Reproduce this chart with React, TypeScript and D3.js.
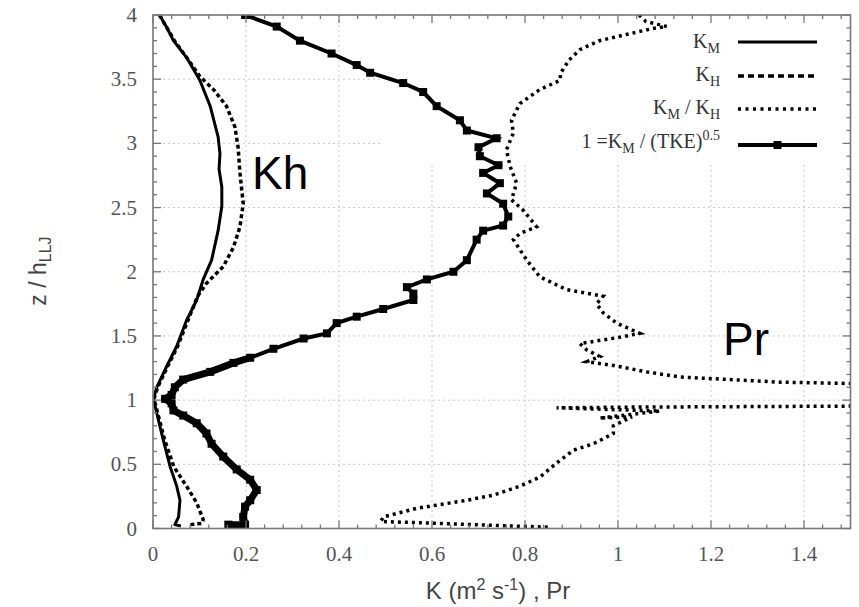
import React from "react";
import * as d3 from "d3";

// K_M profile (solid)
const kmZ = [4.0, 3.9, 3.8, 3.67, 3.49, 3.29, 3.05, 2.92, 2.8, 2.66, 2.51, 2.32, 2.09, 1.94, 1.78, 1.62, 1.42, 1.26, 1.1, 1.01, 0.9, 0.69, 0.48, 0.33, 0.22, 0.09, 0.03, 0.02];
const kmX = [0.014, 0.03, 0.044, 0.072, 0.101, 0.123, 0.14, 0.144, 0.142, 0.148, 0.148, 0.14, 0.126, 0.108, 0.094, 0.072, 0.051, 0.029, 0.008, 0.001, 0.008, 0.022, 0.037, 0.051, 0.058, 0.055, 0.047, 0.06];

// K_H profile (dashed)
const khZ = [4.0, 3.9, 3.8, 3.65, 3.52, 3.42, 3.29, 3.13, 2.97, 2.77, 2.53, 2.35, 2.19, 2.04, 1.91, 1.81, 1.62, 1.42, 1.26, 1.1, 1.01, 0.9, 0.69, 0.48, 0.33, 0.2, 0.07, 0.04, 0.03];
const khX = [0.014, 0.03, 0.046, 0.076, 0.101, 0.13, 0.158, 0.176, 0.183, 0.187, 0.194, 0.187, 0.173, 0.151, 0.115, 0.096, 0.075, 0.053, 0.031, 0.01, 0.002, 0.01, 0.025, 0.045, 0.072, 0.094, 0.108, 0.105, 0.08];

// l = K_M / (TKE)^0.5
const tkeZ = [4.0, 3.91, 3.8, 3.7, 3.61, 3.55, 3.47, 3.4, 3.29, 3.18, 3.1, 3.04, 2.97, 2.9, 2.83, 2.77, 2.69, 2.61, 2.53, 2.43, 2.36, 2.32, 2.25, 2.09, 2.0, 1.94, 1.88, 1.83, 1.78, 1.71, 1.65, 1.6, 1.52, 1.48, 1.4, 1.33, 1.29, 1.22, 1.16, 1.1, 1.04, 1.01, 0.975, 0.92, 0.88, 0.82, 0.74, 0.66, 0.56, 0.46, 0.38, 0.3, 0.22, 0.17, 0.09, 0.03, 0.03];
const tkeX = [0.198, 0.266, 0.316, 0.384, 0.438, 0.467, 0.538, 0.581, 0.61, 0.66, 0.675, 0.739, 0.7, 0.703, 0.743, 0.71, 0.746, 0.718, 0.753, 0.764, 0.753, 0.71, 0.696, 0.675, 0.646, 0.589, 0.546, 0.56, 0.56, 0.495, 0.438, 0.395, 0.374, 0.324, 0.259, 0.209, 0.173, 0.123, 0.065, 0.047, 0.04, 0.026, 0.04, 0.044, 0.065, 0.094, 0.115, 0.126, 0.151, 0.18, 0.209, 0.223, 0.209, 0.198, 0.194, 0.198, 0.162];

// Pr = K_M / K_H (dotted)
const prZ = [4.0, 3.95, 3.91, 3.895, 3.85, 3.8, 3.73, 3.65, 3.55, 3.49, 3.42, 3.31, 3.18, 3.08, 2.95, 2.82, 2.69, 2.56, 2.48, 2.35, 2.3, 2.25, 2.09, 1.96, 1.86, 1.81, 1.75, 1.68, 1.6, 1.52, 1.49, 1.44, 1.39, 1.34, 1.3, 1.27, 1.22, 1.18, 1.16, 1.14, 1.13, 1.11, 0.96, 0.95, 0.945, 0.94, 0.915, 0.86, 0.87, 0.8, 0.74, 0.66, 0.61, 0.51, 0.4, 0.33, 0.26, 0.22, 0.157, 0.09, 0.055, 0.01];
const prX = [1.045, 1.06, 1.105, 1.075, 1.02, 0.96, 0.918, 0.895, 0.877, 0.875, 0.832, 0.789, 0.771, 0.775, 0.76, 0.768, 0.782, 0.771, 0.796, 0.825, 0.79, 0.775, 0.804, 0.832, 0.89, 0.968, 0.954, 0.968, 0.997, 1.047, 1.004, 0.918, 0.933, 0.961, 0.933, 0.99, 1.062, 1.133, 1.241, 1.348, 1.49, 1.9, 1.9, 1.3, 1.0, 0.868, 1.09, 0.96, 1.03, 0.99, 0.99, 0.947, 0.904, 0.868, 0.832, 0.789, 0.732, 0.675, 0.567, 0.495, 0.49, 0.85];

const xTicks = [0, 0.2, 0.4, 0.6, 0.8, 1, 1.2, 1.4];
const yTicks = [0, 0.5, 1, 1.5, 2, 2.5, 3, 3.5, 4];

const serif = "'Liberation Serif', 'Times New Roman', serif";
const sans = "'Liberation Sans', Arial, sans-serif";

export default function App() {
  const left = 153, right = 850.5, top = 15, bottom = 528.5;
  const x = d3.scaleLinear().domain([0, 1.5]).range([left, right]);
  const y = d3.scaleLinear().domain([0, 4]).range([bottom, top]);
  const line = d3.line<number[]>().x(d => x(d[0])).y(d => y(d[1]));

  const km = kmX.map((v, i) => [v, kmZ[i]]);
  const kh = khX.map((v, i) => [v, khZ[i]]);
  const tke = tkeX.map((v, i) => [v, tkeZ[i]]);
  const pr = prX.map((v, i) => [v, prZ[i]]);
  // the lower part of the mixing-length profile is drawn bolder in the original
  const tkeLow = tke.filter(d => d[1] <= 1.33);

  const xMinor = d3.range(0, 1.5001, 0.04);
  const yMinor = d3.range(0, 4.0001, 0.1);

  const legX = 720, sx0 = 738, sx1 = 817;
  const rows = [42, 76, 109, 145];

  return (
    <svg width={859} height={607} style={{ position: "absolute", left: 0, top: 0, background: "#fff" }}>
      <defs>
        <clipPath id="plot">
          <rect x={left} y={top} width={right - left} height={bottom - top} />
        </clipPath>
      </defs>
      <rect width={859} height={607} fill="#fff" />

      {/* grid */}
      <g stroke="#c8c8c8" strokeWidth={1} strokeDasharray="2,3">
        {xTicks.filter(t => t > 0).map(t => (
          <line key={"gx" + t} x1={x(t)} x2={x(t)} y1={top} y2={bottom} />
        ))}
        {yTicks.filter(t => t > 0 && t < 4).map(t => (
          <line key={"gy" + t} x1={left} x2={right} y1={y(t)} y2={y(t)} />
        ))}
      </g>
      {/* key box hides grid */}
      <rect x={380} y={top + 1} width={right - 381} height={148} fill="#fff" />

      {/* curves */}
      <g clipPath="url(#plot)" fill="none" stroke="#000">
        <path d={line(km) || ""} strokeWidth={3} strokeLinejoin="round" />
        <path d={line(kh) || ""} strokeWidth={3.5} strokeDasharray="4,3" />
        <path d={line(pr) || ""} strokeWidth={3.5} strokeDasharray="3,4" />
        <path d={line(tke) || ""} strokeWidth={4} strokeLinejoin="miter" />
        <path d={line(tkeLow) || ""} strokeWidth={7} strokeLinejoin="round" />
        {tke.map((d, i) => (
          <rect key={"m" + i} x={x(d[0]) - 4} y={y(d[1]) - 4} width={8} height={8} fill="#000" stroke="none" />
        ))}
      </g>

      {/* legend */}
      <g fontFamily={serif} fontSize={20} fill="#333" textAnchor="end">
        <text x={legX} y={rows[0] + 6}>K<tspan fontSize={14} dy={5}>M</tspan></text>
        <text x={legX} y={rows[1] + 5}>K<tspan fontSize={14} dy={5}>H</tspan></text>
        <text x={legX} y={rows[2] + 5}>K<tspan fontSize={14} dy={5}>M</tspan><tspan dy={-5}> / K</tspan><tspan fontSize={14} dy={5}>H</tspan></text>
        <text x={legX} y={rows[3] + 3}>1 =K<tspan fontSize={14} dy={5}>M</tspan><tspan dy={-5}> / (TKE)</tspan><tspan fontSize={14} dy={-8}>0.5</tspan></text>
      </g>
      <g stroke="#000" fill="none">
        <line x1={sx0} x2={sx1} y1={rows[0]} y2={rows[0]} strokeWidth={3} />
        <line x1={sx0} x2={sx1} y1={rows[1]} y2={rows[1]} strokeWidth={3.5} strokeDasharray="6,4" />
        <line x1={sx0} x2={sx1} y1={rows[2]} y2={rows[2]} strokeWidth={3.5} strokeDasharray="3,4.5" />
        <line x1={sx0} x2={sx1} y1={rows[3]} y2={rows[3]} strokeWidth={4} />
        <rect x={(sx0 + sx1) / 2 - 4} y={rows[3] - 4} width={8} height={8} fill="#000" stroke="none" />
      </g>

      {/* frame and ticks */}
      <g stroke="#777" strokeWidth={1.3}>
        {xMinor.map((t, i) => {
          const len = i % 5 === 0 ? 8 : 4;
          return (
            <g key={"xt" + i}>
              <line x1={x(t)} x2={x(t)} y1={bottom} y2={bottom - len} />
              <line x1={x(t)} x2={x(t)} y1={top} y2={top + len} />
            </g>
          );
        })}
        {yMinor.map((t, i) => {
          const len = i % 5 === 0 ? 8 : 4;
          return (
            <g key={"yt" + i}>
              <line x1={left} x2={left + len} y1={y(t)} y2={y(t)} />
              <line x1={right} x2={right - len} y1={y(t)} y2={y(t)} />
            </g>
          );
        })}
        <rect x={left} y={top} width={right - left} height={bottom - top} fill="none" strokeWidth={1.6} />
      </g>

      {/* tick labels */}
      <g fontFamily={serif} fontSize={21} fill="#555">
        {xTicks.map(t => (
          <text key={"xl" + t} x={x(t)} y={561} textAnchor="middle">{d3.format("~g")(t)}</text>
        ))}
        {yTicks.map(t => (
          <text key={"yl" + t} x={137} y={y(t) + 7} textAnchor="end">{d3.format("~g")(t)}</text>
        ))}
      </g>

      {/* axis titles */}
      <text x={498} y={599} textAnchor="middle" fontFamily={sans} fontSize={24} fill="#444">
        K (m<tspan fontSize={16} dy={-9}>2</tspan><tspan dy={9}> s</tspan><tspan fontSize={16} dy={-9}>-1</tspan><tspan dy={9}>) , Pr</tspan>
      </text>
      <text transform="translate(46,271) rotate(-90)" textAnchor="middle" fontFamily={sans} fontSize={23} fill="#444">
        z / h<tspan fontSize={16} dy={5}>LLJ</tspan>
      </text>

      {/* annotations */}
      <text x={252} y={189} fontFamily={sans} fontSize={46} fill="#000">Kh</text>
      <text x={723} y={355} fontFamily={sans} fontSize={46} fill="#000">Pr</text>
    </svg>
  );
}
